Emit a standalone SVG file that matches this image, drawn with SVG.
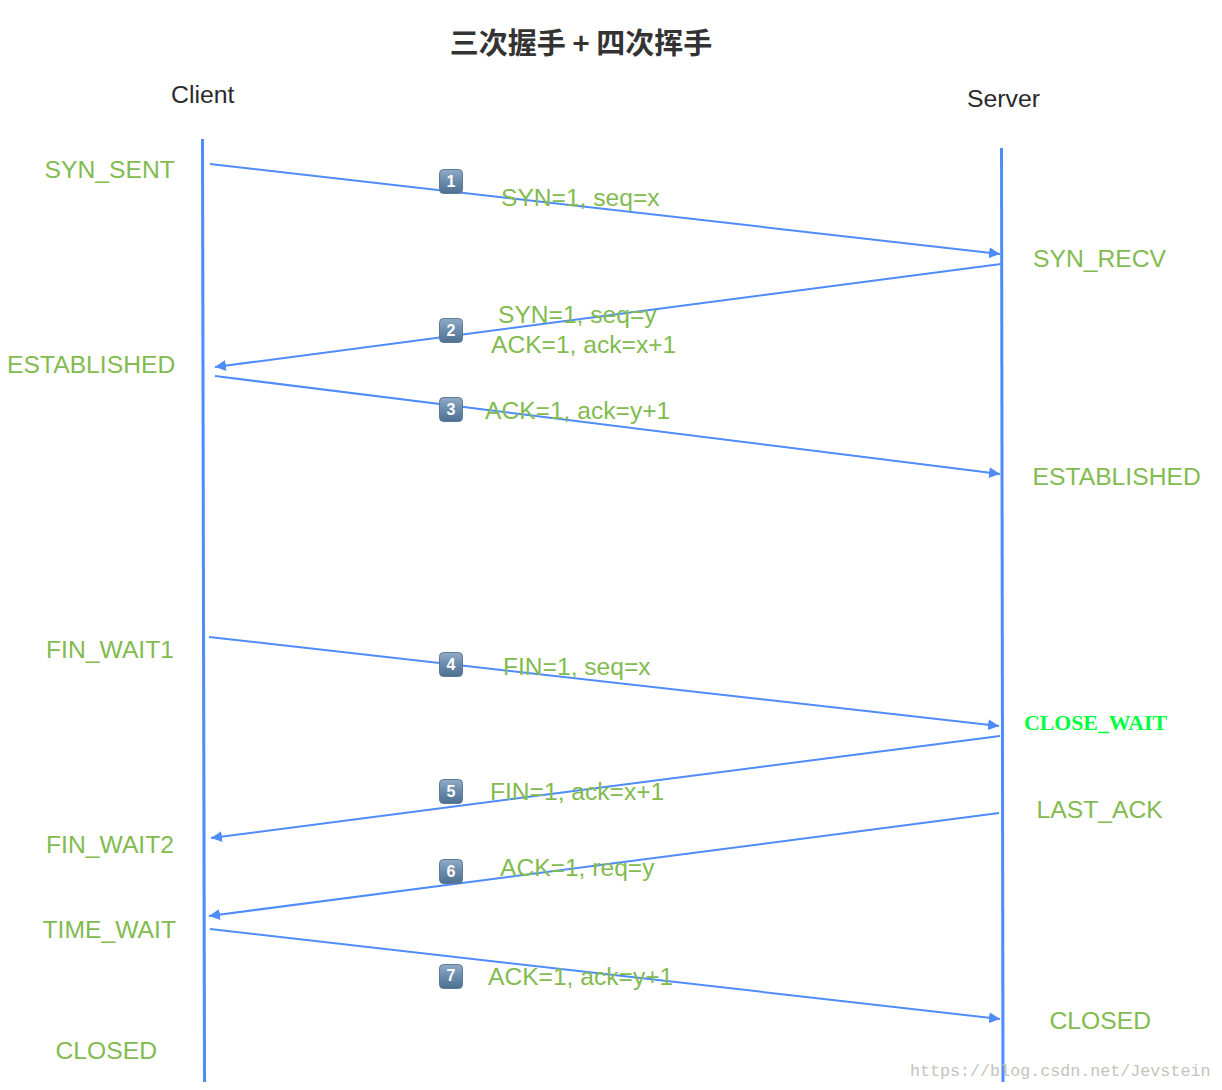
<svg xmlns="http://www.w3.org/2000/svg" width="1222" height="1090" viewBox="0 0 1222 1090">
<defs>
<linearGradient id="bg" x1="0" y1="0" x2="0" y2="1"><stop offset="0" stop-color="#92abc6"/><stop offset="0.5" stop-color="#6a8bab"/><stop offset="1" stop-color="#4f6f90"/></linearGradient>
<marker id="ah" markerUnits="userSpaceOnUse" markerWidth="13" markerHeight="11" refX="11" refY="5.500" orient="auto"><path d="M0 0L11 5.500L0 11Z" fill="#4f8cfb"/></marker>
</defs>
<style>
text{font-family:"Liberation Sans",Arial,sans-serif}
.s{font-size:24.700px;fill:#82bb4f}
.l{font-size:24.600px;fill:#82bb4f}
.h{font-size:24.800px;fill:#2a2a2a}
.life{stroke:#4f8cfb;stroke-width:3;fill:none}
.c{stroke:#4f8cfb;stroke-width:2;fill:none;marker-end:url(#ah)}
.b{fill:url(#bg);stroke:#5d7a98;stroke-width:1}
.n{font-size:16px;font-weight:bold;fill:#fff;text-anchor:middle}
</style>
<rect width="1222" height="1090" fill="#fff"/>
<text id="title" x="581" y="54" text-anchor="middle" style="font-family:'Noto Sans CJK SC','Liberation Sans',sans-serif;font-size:29px;font-weight:bold;fill:#333">三次握手 + 四次挥手</text>
<g id="connectors">
<path class="life" d="M202.500 139L204.500 1082"/>
<path class="life" d="M1001.500 148L1003 1082"/>
<path class="c" d="M210 164L1000 254"/>
<path class="c" d="M1001 264L215 367"/>
<path class="c" d="M215 376L1000 474"/>
<path class="c" d="M209 637L999 726"/>
<path class="c" d="M1000 736L211 838"/>
<path class="c" d="M999 813L209 916"/>
<path class="c" d="M210 929L1000 1019"/>
</g>
<g id="client"><text class="h" x="171" y="103">Client</text></g>
<g id="server"><text class="h" x="967" y="107">Server</text></g>
<g id="client-states">
<text class="s" x="44.500" y="178">SYN_SENT</text>
<text class="s" x="7" y="372.500">ESTABLISHED</text>
<text class="s" x="46" y="658">FIN_WAIT1</text>
<text class="s" x="46" y="852.500">FIN_WAIT2</text>
<text class="s" x="42.500" y="938">TIME_WAIT</text>
<text class="s" x="55.500" y="1059">CLOSED</text>
</g>
<g id="server-states">
<text class="s" x="1033" y="267">SYN_RECV</text>
<text class="s" x="1032.500" y="485">ESTABLISHED</text>
<text x="1024" y="730" style="font-family:'Liberation Serif',serif;font-size:21.800px;font-weight:bold;fill:#00ff40">CLOSE_WAIT</text>
<text class="s" x="1036.500" y="818">LAST_ACK</text>
<text class="s" x="1049.500" y="1029">CLOSED</text>
</g>
<g id="step1"><rect class="b" x="439.500" y="169.500" width="23" height="24" rx="4"/><text class="n" x="451" y="187">1</text></g>
<g id="step2"><rect class="b" x="439.500" y="318.500" width="23" height="24" rx="4"/><text class="n" x="451" y="336">2</text></g>
<g id="step3"><rect class="b" x="439.500" y="397.500" width="23" height="24" rx="4"/><text class="n" x="451" y="415">3</text></g>
<g id="step4"><rect class="b" x="439.500" y="652.500" width="23" height="24" rx="4"/><text class="n" x="451" y="670">4</text></g>
<g id="step5"><rect class="b" x="439.500" y="779.500" width="23" height="24" rx="4"/><text class="n" x="451" y="797">5</text></g>
<g id="step6"><rect class="b" x="439.500" y="859.500" width="23" height="24" rx="4"/><text class="n" x="451" y="877">6</text></g>
<g id="step7"><rect class="b" x="439.500" y="964.500" width="23" height="24" rx="4"/><text class="n" x="451" y="981">7</text></g>
<g id="labels">
<text class="l" x="501" y="206">SYN=1, seq=x</text>
<text class="l" x="498" y="323">SYN=1, seq=y</text>
<text class="l" x="491" y="353">ACK=1, ack=x+1</text>
<text class="l" x="485" y="419">ACK=1, ack=y+1</text>
<text class="l" x="503" y="675">FIN=1, seq=x</text>
<text class="l" x="490" y="800">FIN=1, ack=x+1</text>
<text class="l" x="500" y="876">ACK=1, req=y</text>
<text class="l" x="488" y="985">ACK=1, ack=y+1</text>
</g>
<text id="watermark" x="910" y="1076" style="font-family:'Liberation Mono',monospace;font-size:16.700px;fill:#c4c4bc">https://blog.csdn.net/Jevstein</text>
</svg>
